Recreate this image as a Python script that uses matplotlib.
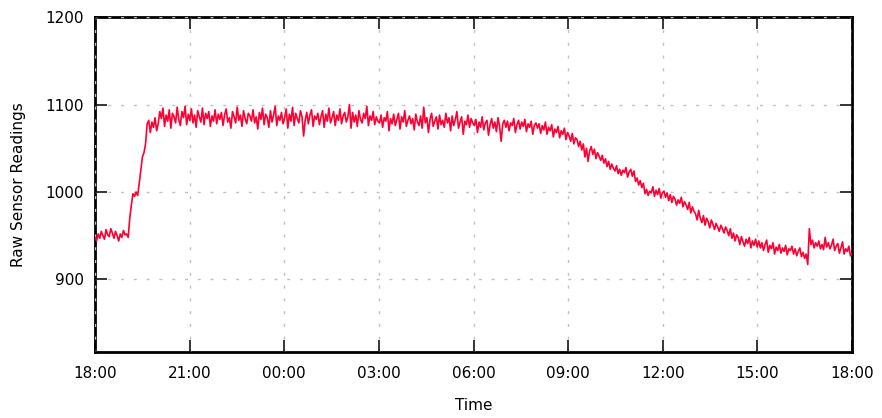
import numpy as np
import pandas as pd
import matplotlib
matplotlib.use("Agg")
import matplotlib.pyplot as plt
import matplotlib.dates as mdates

# raw readings, 3-minute samples, one row per hour starting 18:00
readings = [
    # 18:00
    948, 944, 952, 947, 955, 950, 946, 957, 951, 949, 958, 953, 947, 955, 950, 944, 952, 948, 956, 951,
    # 19:00
    952, 948, 970, 985, 998, 995, 1000, 996, 1010, 1025, 1040, 1045, 1055, 1078, 1082, 1068, 1080, 1074, 1085, 1070,
    # 20:00
    1078, 1092, 1084, 1096, 1075, 1088, 1081, 1094, 1073, 1090, 1086, 1079, 1097, 1083, 1076, 1092, 1085, 1098, 1077, 1089,
    # 21:00
    1082, 1095, 1079, 1088, 1074, 1093, 1086, 1080, 1096, 1077, 1090, 1084, 1092, 1075, 1087, 1081, 1094, 1078, 1089, 1083,
    # 22:00
    1091, 1076, 1088, 1095, 1080, 1085, 1073, 1092, 1086, 1079, 1097, 1082, 1088, 1075, 1093, 1084, 1078, 1090, 1087, 1081,
    # 23:00
    1094, 1079, 1086, 1072, 1091, 1083, 1096, 1077, 1089, 1085, 1074, 1093, 1080, 1088, 1098, 1076, 1087, 1082, 1091, 1078,
    # 00:00
    1085, 1095, 1073, 1089, 1081, 1097, 1076, 1090, 1084, 1079, 1093, 1086, 1064, 1082, 1091, 1078, 1088, 1094, 1075, 1087,
    # 01:00
    1083, 1090, 1077, 1086, 1093, 1074, 1089, 1081, 1096, 1079, 1085, 1092, 1076, 1088, 1082, 1095, 1078, 1087, 1091, 1080,
    # 02:00
    1086, 1100, 1073, 1091, 1080, 1088, 1075, 1093, 1083, 1079, 1090, 1084, 1098, 1076, 1087, 1082, 1092, 1077, 1086, 1081,
    # 03:00
    1079, 1088, 1074, 1085, 1081, 1092, 1070, 1084, 1078, 1089, 1076, 1083, 1090, 1072, 1086, 1080, 1093, 1075, 1082, 1087,
    # 04:00
    1078, 1084, 1071, 1089, 1080, 1076, 1087, 1073, 1097, 1079, 1085, 1068, 1083, 1090, 1075, 1081, 1086, 1072, 1088, 1077,
    # 05:00
    1082, 1074, 1090, 1079, 1085, 1070, 1087, 1076, 1083, 1092, 1073, 1080, 1086, 1066, 1081, 1077, 1088, 1074, 1084, 1079,
    # 06:00
    1076, 1083, 1068, 1080, 1074, 1086, 1071, 1079, 1082, 1065, 1077, 1084, 1073, 1080, 1069, 1085, 1075, 1058, 1078, 1082,
    # 07:00
    1074, 1081, 1070, 1079, 1076, 1084, 1068, 1077, 1082, 1072, 1080, 1075, 1083, 1069, 1078, 1074, 1081, 1066, 1076, 1079,
    # 08:00
    1073, 1078, 1067, 1076, 1071, 1080, 1066, 1074, 1070, 1077, 1063, 1072, 1068, 1075, 1062, 1070, 1066, 1073, 1060, 1068,
    # 09:00
    1064, 1058, 1067, 1055, 1062, 1060, 1052, 1058, 1048, 1055, 1040, 1050, 1035, 1047, 1052, 1043, 1049, 1038, 1045, 1041,
    # 10:00
    1036, 1042, 1033, 1038, 1029, 1035, 1026, 1032, 1027, 1024, 1030, 1021, 1026, 1019, 1025, 1022, 1028, 1017, 1023, 1026,
    # 11:00
    1018, 1024, 1012, 1016, 1008, 1013, 1005, 1010, 998, 1003, 996, 1001, 999, 1006, 995, 1002, 997, 1004, 993, 999,
    # 12:00
    1001, 994, 999, 990, 997, 988, 995, 992, 985, 991, 987, 994, 983, 989, 985, 980, 988, 976, 983, 978,
    # 13:00
    975, 968, 979, 970, 965, 973, 962, 970, 966, 959, 968, 963, 957, 964, 960, 955, 962, 958, 953, 960,
    # 14:00
    956, 950, 958, 947, 953, 944, 951, 948, 940, 949, 943, 938, 946, 941, 948, 936, 944, 939, 946, 937,
    # 15:00
    944, 936, 942, 933, 940, 945, 931, 939, 935, 942, 929, 937, 933, 940, 930, 936, 932, 939, 928, 935,
    # 16:00
    933, 938, 929, 935, 927, 932, 936, 926, 931, 924, 929, 917, 958, 940, 945, 936, 942, 938, 944, 935,
    # 17:00
    940, 934, 948, 937, 942, 935, 939, 946, 933, 938, 941, 930, 936, 943, 929, 935, 932, 938, 927, 930,
]

t_start = pd.Timestamp("2016-03-01 18:00")
t_end = pd.Timestamp("2016-03-02 18:00")
times = pd.date_range(t_start, t_end, periods=len(readings))

y_ticks = [900, 1000, 1100, 1200]

plt.rcParams["font.family"] = "DejaVu Sans"
plt.rcParams["font.size"] = 11

fig = plt.figure(figsize=(8.82, 4.18), dpi=100)
ax = fig.add_axes([0.1077, 0.158, 0.8583, 0.801])

ax.plot(times, readings, color="#ff0033", lw=1.2, zorder=2)

ax.set_xlim(t_start, t_end)
ax.set_ylim(817, 1200)
ax.set_yticks(y_ticks)
ax.xaxis.set_major_locator(mdates.HourLocator(byhour=range(0, 24, 3)))
ax.xaxis.set_major_formatter(mdates.DateFormatter("%H:%M"))

ax.tick_params(direction="in", length=8.5, width=1.1, labelsize=11,
               top=True, right=True)
ax.tick_params(axis="x", pad=10)
ax.tick_params(axis="y", pad=8)
for s in ax.spines.values():
    s.set_linewidth(2.0)
    s.set_zorder(1)
ax.set_axisbelow("line")
ax.grid(True, color="#c2c2c2", lw=1.0, linestyle=(0, (2.2, 7)))

ax.set_xlabel("Time", labelpad=12)
ax.set_ylabel("Raw Sensor Readings", labelpad=14)

fig.savefig("out.png", dpi=100)
